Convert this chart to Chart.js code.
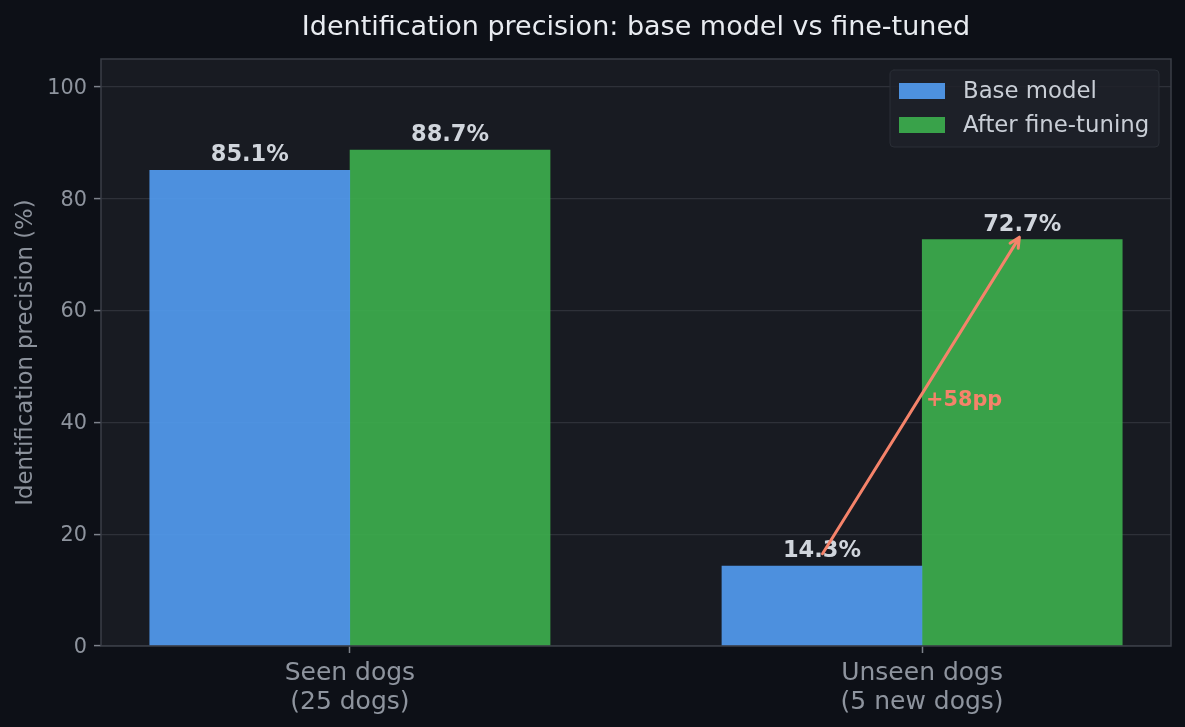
<!DOCTYPE html>
<html>
<head>
<meta charset="utf-8">
<script src="https://cdn.jsdelivr.net/npm/chart.js@4.4.1/dist/chart.umd.min.js"></script>
<style>
    html, body { margin: 0; padding: 0; background: #0d1017; }
    canvas { display: block; }
</style>
</head>
<body>
<canvas id="chart" width="1185" height="727"></canvas>
<script>
// chart data
const categories = [['Seen dogs', '(25 dogs)'], ['Unseen dogs', '(5 new dogs)']];
const categoryPos = [0, 1];
const seriesNames = ['Base model', 'After fine-tuning'];
const baseValues = [85.1, 14.3];
const tunedValues = [88.7, 72.7];
const yTicks = [0, 20, 40, 60, 80, 100];

// annotation (data coords)
const arrowFrom = [0.826, 16.5];
const arrowTo = [1.17, 73.1];
const gainLabel = '+58pp';
const gainPos = [1.007, 43.0];

const FONT = "'DejaVu Sans', sans-serif";
const barOffset = 0.175;

const blue = 'rgba(83, 157, 243, 0.9)';
const green = 'rgba(61, 176, 78, 0.9)';

const bgPlugin = {
    id: 'bg',
    beforeDraw(chart) {
        const { ctx, chartArea: a } = chart;
        ctx.save();
        ctx.fillStyle = '#0d1017';
        ctx.fillRect(0, 0, chart.width, chart.height);
        ctx.fillStyle = '#181b22';
        ctx.fillRect(a.left, a.top, a.right - a.left, a.bottom - a.top);
        ctx.restore();
    }
};

const overlayPlugin = {
    id: 'overlay',
    afterDatasetsDraw(chart) {
        const { ctx, chartArea: a, scales } = chart;
        const xs = scales.x, ys = scales.y;
        ctx.save();

        // frame
        ctx.strokeStyle = '#3a3e47';
        ctx.lineWidth = 1.5;
        ctx.strokeRect(a.left, a.top, a.right - a.left, a.bottom - a.top);

        // value labels
        ctx.font = `bold 22.5px ${FONT}`;
        ctx.fillStyle = '#d0d5dc';
        ctx.textAlign = 'center';
        ctx.textBaseline = 'alphabetic';
        chart.data.datasets.forEach((ds, di) => {
            chart.getDatasetMeta(di).data.forEach((bar, i) => {
                ctx.fillText(ds.data[i].y.toFixed(1) + '%', bar.x, bar.y - 9);
            });
        });

        // arrow
        const x1 = xs.getPixelForValue(arrowFrom[0]), y1 = ys.getPixelForValue(arrowFrom[1]);
        const x2 = xs.getPixelForValue(arrowTo[0]), y2 = ys.getPixelForValue(arrowTo[1]);
        ctx.strokeStyle = '#f5836a';
        ctx.lineWidth = 3;
        ctx.lineCap = 'round';
        ctx.lineJoin = 'round';
        ctx.beginPath();
        ctx.moveTo(x1, y1);
        ctx.lineTo(x2, y2);
        const ang = Math.atan2(y2 - y1, x2 - x1);
        const hl = 11;
        ctx.moveTo(x2 - hl * Math.cos(ang - 0.45), y2 - hl * Math.sin(ang - 0.45));
        ctx.lineTo(x2, y2);
        ctx.lineTo(x2 - hl * Math.cos(ang + 0.45), y2 - hl * Math.sin(ang + 0.45));
        ctx.stroke();

        ctx.font = `bold 20.8px ${FONT}`;
        ctx.fillStyle = '#f5836a';
        ctx.textAlign = 'left';
        ctx.fillText(gainLabel, xs.getPixelForValue(gainPos[0]), ys.getPixelForValue(gainPos[1]));

        // legend
        const lw = 269, lh = 77;
        const lx = a.right - 12 - lw, ly = a.top + 11;
        ctx.fillStyle = 'rgba(30, 33, 41, 0.85)';
        ctx.strokeStyle = '#2a2e36';
        ctx.lineWidth = 1;
        ctx.beginPath();
        ctx.roundRect(lx, ly, lw, lh, 4);
        ctx.fill();
        ctx.stroke();
        ctx.font = `22.8px ${FONT}`;
        ctx.textBaseline = 'middle';
        chart.data.datasets.forEach((ds, i) => {
            const cy = ly + 21 + i * 34;
            ctx.fillStyle = ds.backgroundColor;
            ctx.fillRect(lx + 9, cy - 8, 46, 16);
            ctx.fillStyle = '#c9ced6';
            ctx.fillText(ds.label, lx + 73, cy + 1);
        });

        // title
        ctx.font = `27px ${FONT}`;
        ctx.fillStyle = '#e8ebf0';
        ctx.textAlign = 'center';
        ctx.textBaseline = 'alphabetic';
        ctx.fillText('Identification precision: base model vs fine-tuned', (a.left + a.right) / 2, 35);

        // y axis title
        ctx.translate(32, (a.top + a.bottom) / 2);
        ctx.rotate(-Math.PI / 2);
        ctx.font = `22.8px ${FONT}`;
        ctx.fillStyle = '#8b919b';
        ctx.fillText('Identification precision (%)', 0, 0);
        ctx.restore();
    }
};

new Chart(document.getElementById('chart'), {
    type: 'bar',
    data: {
        datasets: [
            {
                label: seriesNames[0],
                data: categoryPos.map((p, i) => ({ x: p - barOffset, y: baseValues[i] })),
                backgroundColor: blue
            },
            {
                label: seriesNames[1],
                data: categoryPos.map((p, i) => ({ x: p + barOffset, y: tunedValues[i] })),
                backgroundColor: green
            }
        ]
    },
    options: {
        responsive: false,
        animation: false,
        layout: { padding: { left: 0, right: 14, top: 59, bottom: 0 } },
        datasets: { bar: { grouped: false, barThickness: 200 } },
        plugins: {
            legend: { display: false },
            title: { display: false },
            tooltip: { enabled: false }
        },
        scales: {
            x: {
                type: 'linear',
                min: -0.435,
                max: 1.435,
                offset: false,
                afterFit: s => { s.height = 81; },
                afterBuildTicks: s => { s.ticks = categoryPos.map(v => ({ value: v })); },
                grid: { offset: false, drawOnChartArea: false, drawTicks: true, tickLength: 7, tickColor: '#7d828b', tickWidth: 1.5 },
                border: { display: false },
                ticks: {
                    padding: 6,
                    color: '#8e949e',
                    font: { family: FONT, size: 25, lineHeight: 1.15 },
                    callback: v => categories[categoryPos.indexOf(v)]
                }
            },
            y: {
                min: 0,
                max: 105,
                afterFit: s => { s.width = 101; },
                afterBuildTicks: s => { s.ticks = yTicks.map(v => ({ value: v })); },
                grid: { color: '#2e3139', lineWidth: 1.2, tickLength: 7, tickColor: '#7d828b', tickWidth: 1.5 },
                border: { display: false },
                ticks: {
                    padding: 7,
                    labelOffset: 1.5,
                    color: '#8e949e',
                    font: { family: FONT, size: 20.8 }
                }
            }
        }
    },
    plugins: [bgPlugin, overlayPlugin]
});
</script>
</body>
</html>
